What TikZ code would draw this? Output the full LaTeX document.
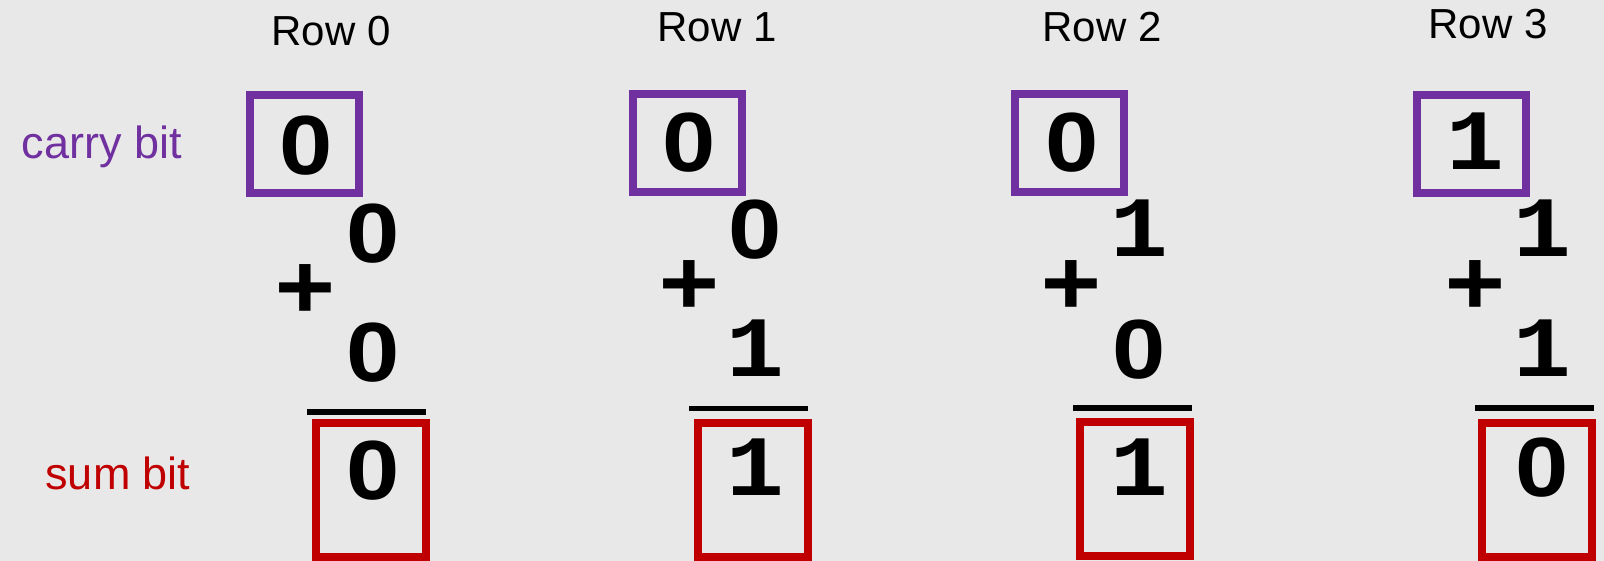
\documentclass[tikz,border=0pt]{standalone}
\usepackage{fontspec}
\setmainfont{Liberation Sans}
\newfontfamily\monodigits[FakeStretch=1.12]{Liberation Mono}
\newfontfamily\zerodigits[FakeStretch=1.14]{Liberation Sans}
\definecolor{bg}{HTML}{E8E8E8}
\definecolor{carrypurple}{HTML}{7030A0}
\definecolor{sumred}{HTML}{C00000}
\newcommand{\dz}{{\zerodigits\bfseries\fontsize{42}{42}\selectfont 0}}
\newcommand{\dn}{{\monodigits\bfseries\fontsize{43}{43}\selectfont 1}}
\newcommand{\dplus}{{\monodigits\bfseries\fontsize{46}{46}\selectfont +}}
\tikzset{
  rowlabel/.style={font=\fontsize{21}{21}\selectfont, anchor=base, inner sep=0pt},
  sidelabel/.style={font=\fontsize{22.5}{22.5}\selectfont, anchor=base, inner sep=0pt},
  digit/.style={inner sep=0pt, anchor=center},
  cbox/.style={draw=carrypurple, line width=4pt, minimum width=54.5pt, minimum height=49pt, inner sep=0pt},
  sbox/.style={draw=sumred, line width=4pt, minimum width=55pt, minimum height=67pt, inner sep=0pt},
  rule/.style={line width=2.7pt, black},
}
\begin{document}
\begin{tikzpicture}[x=0.5pt,y=-0.5pt]
\fill[bg] (0,0) rectangle (1604,561);
\useasboundingbox (0,0) rectangle (1604,561);

% side labels
\node[sidelabel, text=carrypurple] (carrylbl) at (102,159) {carry bit};
\node[sidelabel, text=sumred] (sumlbl) at (118,489) {sum bit};

% row labels
\node[rowlabel] (r0) at (331,46) {Row 0};
\node[rowlabel] (r1) at (717,42) {Row 1};
\node[rowlabel] (r2) at (1102,42) {Row 2};
\node[rowlabel] (r3) at (1488,39) {Row 3};

% ---------- column 0
\node[cbox] (cb0) at (304.5,144) {};
\node[digit] (c0) at (306,145.5) {\dz};
\node[digit] (a0) at (373,234) {\dz};
\node[digit] (p0) at (305.5,291.5) {\dplus};
\node[digit] (b0) at (373,352.5) {\dz};
\coordinate (l0a) at (307,412);
\coordinate (l0b) at (426,412);
\draw[rule] (l0a) -- (l0b);
\node[sbox] (sb0) at (371,490) {};
\node[digit] (s0) at (373,471) {\dz};

% ---------- column 1
\node[cbox] (cb1) at (687,143) {};
\node[digit] (c1) at (689,142.5) {\dz};
\node[digit] (a1) at (755.5,229.5) {\dz};
\node[digit] (p1) at (689,287.5) {\dplus};
\node[digit] (b1) at (755.5,348.5) {\dn};
\coordinate (l1a) at (689,408.5);
\coordinate (l1b) at (808,408.5);
\draw[rule] (l1a) -- (l1b);
\node[sbox] (sb1) at (753,490) {};
\node[digit] (s1) at (755.5,467.5) {\dn};

% ---------- column 2
\node[cbox] (cb2) at (1069,143) {};
\node[digit] (c2) at (1072,142.5) {\dz};
\node[digit] (a2) at (1139,228.5) {\dn};
\node[digit] (p2) at (1071.5,287.5) {\dplus};
\node[digit] (b2) at (1139,349.5) {\dz};
\coordinate (l2a) at (1073,408);
\coordinate (l2b) at (1192,408);
\draw[rule] (l2a) -- (l2b);
\node[sbox] (sb2) at (1135,489) {};
\node[digit] (s2) at (1139,467.5) {\dn};

% ---------- column 3
\node[cbox] (cb3) at (1471,144) {};
\node[digit] (c3) at (1475.5,141.5) {\dn};
\node[digit] (a3) at (1542,228.5) {\dn};
\node[digit] (p3) at (1475.5,287.5) {\dplus};
\node[digit] (b3) at (1542,348.5) {\dn};
\coordinate (l3a) at (1475,408);
\coordinate (l3b) at (1594,408);
\draw[rule] (l3a) -- (l3b);
\node[sbox] (sb3) at (1537,490) {};
\node[digit] (s3) at (1542,467.5) {\dz};
\end{tikzpicture}
\end{document}
